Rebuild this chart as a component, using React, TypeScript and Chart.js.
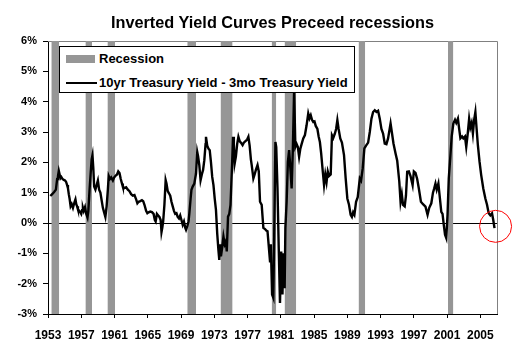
import React, { useEffect, useRef } from "react";
import { Chart, registerables } from "chart.js";

Chart.register(...registerables);

const FONT = '"Liberation Sans", Arial, Helvetica, sans-serif';

const titleText = "Inverted Yield Curves Preceed recessions";
const legendRecession = "Recession";
const legendSpread = "10yr Treasury Yield - 3mo Treasury Yield";

const xTickYears = [1953, 1957, 1961, 1965, 1969, 1973, 1977, 1981, 1985, 1989, 1993, 1997, 2001, 2005];
const yTickValues = [-3, -2, -1, 0, 1, 2, 3, 4, 5, 6];

const recessionStart = [1953.4, 1957.5, 1960.15, 1969.75, 1973.75, 1979.9, 1981.45, 1990.35, 2001.1];
const recessionEnd = [1954.35, 1958.3, 1961.07, 1970.8, 1975.2, 1980.45, 1982.85, 1991.15, 2001.75];

const spreadDates = [
  1953.28, 1953.5, 1953.76, 1953.95, 1954.1, 1954.2, 1954.3, 1954.4, 1954.5, 1954.6, 1954.75, 1954.9,
  1955.05, 1955.17, 1955.3, 1955.4, 1955.5, 1955.6, 1955.72, 1955.85, 1956.0, 1956.1, 1956.2, 1956.3,
  1956.4, 1956.5, 1956.6, 1956.75, 1956.9, 1957.0, 1957.1, 1957.2, 1957.3, 1957.45, 1957.6, 1957.75,
  1957.85, 1958.0, 1958.12, 1958.25, 1958.35, 1958.45, 1958.55, 1958.7, 1958.85, 1959.0, 1959.15, 1959.3,
  1959.45, 1959.6, 1959.75, 1959.9, 1960.05, 1960.2, 1960.3, 1960.45, 1960.6, 1960.8, 1960.95, 1961.1,
  1961.3, 1961.45, 1961.6, 1961.75, 1961.9, 1962.0, 1962.2, 1962.4, 1962.6, 1962.8, 1963.0, 1963.2,
  1963.4, 1963.6, 1963.75, 1963.9, 1964.1, 1964.3, 1964.45, 1964.6, 1964.8, 1964.95, 1965.1, 1965.3,
  1965.5, 1965.7, 1965.85, 1965.95, 1966.1, 1966.25, 1966.4, 1966.55, 1966.65, 1966.75, 1966.85, 1967.0,
  1967.15, 1967.25, 1967.4, 1967.55, 1967.7, 1967.85, 1968.0, 1968.15, 1968.3, 1968.45, 1968.6, 1968.75,
  1968.9, 1969.05, 1969.2, 1969.35, 1969.5, 1969.6, 1969.75, 1969.9, 1970.0, 1970.15, 1970.25, 1970.4,
  1970.6, 1970.8, 1970.95, 1971.05, 1971.2, 1971.35, 1971.5, 1971.65, 1971.8, 1971.95, 1972.0, 1972.15,
  1972.3, 1972.45, 1972.6, 1972.75, 1972.9, 1973.05, 1973.2, 1973.35, 1973.5, 1973.6, 1973.7, 1973.8,
  1973.95, 1974.1, 1974.25, 1974.4, 1974.5, 1974.65, 1974.8, 1974.95, 1975.05, 1975.15, 1975.25, 1975.35,
  1975.45, 1975.6, 1975.75, 1975.9, 1976.05, 1976.2, 1976.4, 1976.55, 1976.75, 1976.95, 1977.1, 1977.25,
  1977.4, 1977.5, 1977.7, 1977.85, 1978.0, 1978.2, 1978.35, 1978.5, 1978.7, 1978.9, 1979.1, 1979.25,
  1979.4, 1979.5, 1979.7, 1979.8, 1979.95, 1980.1, 1980.2, 1980.35, 1980.45, 1980.6, 1980.75, 1980.9,
  1981.05, 1981.2, 1981.3, 1981.46, 1981.55, 1981.7, 1981.85, 1982.0, 1982.15, 1982.3, 1982.45, 1982.6,
  1982.75, 1982.9, 1983.05, 1983.2, 1983.35, 1983.5, 1983.7, 1983.9, 1984.1, 1984.3, 1984.45, 1984.6,
  1984.75, 1984.9, 1985.05, 1985.2, 1985.4, 1985.55, 1985.7, 1985.85, 1986.05, 1986.2, 1986.35, 1986.5,
  1986.65, 1986.8, 1987.0, 1987.15, 1987.3, 1987.5, 1987.65, 1987.8, 1987.95, 1988.15, 1988.35, 1988.6,
  1988.8, 1989.0, 1989.2, 1989.4, 1989.55, 1989.7, 1989.85, 1990.05, 1990.25, 1990.5, 1990.65, 1990.85,
  1991.05, 1991.25, 1991.5, 1991.7, 1991.9, 1992.1, 1992.3, 1992.5, 1992.7, 1992.9, 1993.1, 1993.3,
  1993.5, 1993.7, 1993.9, 1994.2, 1994.35, 1994.55, 1994.8, 1995.0, 1995.25, 1995.4, 1995.55, 1995.7,
  1995.9, 1996.05, 1996.2, 1996.4, 1996.6, 1996.85, 1997.0, 1997.2, 1997.4, 1997.6, 1997.85, 1998.1,
  1998.4, 1998.65, 1998.85, 1999.1, 1999.3, 1999.45, 1999.6, 1999.75, 1999.95, 2000.1, 2000.3, 2000.45,
  2000.6, 2000.75, 2000.9, 2001.05, 2001.2, 2001.4, 2001.55, 2001.75, 2001.95, 2002.1, 2002.3, 2002.45,
  2002.6, 2002.8, 2002.95, 2003.15, 2003.3, 2003.5, 2003.65, 2003.8, 2003.95, 2004.1, 2004.25, 2004.4,
  2004.55, 2004.7, 2004.9, 2005.1, 2005.35, 2005.6, 2005.8, 2006.0, 2006.2, 2006.4, 2006.55, 2006.7,
];

const spreadValues = [
  0.89, 0.95, 1.03, 1.1, 1.45, 1.55, 1.72, 1.6, 1.48, 1.52, 1.45, 1.42,
  1.4, 1.36, 1.25, 1.15, 0.95, 0.8, 0.55, 0.62, 0.5, 0.6, 0.7, 0.78,
  0.62, 0.55, 0.45, 0.4, 0.35, 0.3, 0.42, 0.5, 0.4, 0.52, 0.3, 0.18,
  0.4, 1.1, 1.6, 2.1, 2.24, 1.8, 1.2, 1.1, 1.25, 1.4, 1.1, 1.0,
  0.75, 0.5, 0.35, 0.2, 0.55, 1.1, 1.55, 1.45, 1.5, 1.4, 1.5, 1.55,
  1.6, 1.7, 1.65, 1.45, 1.3, 1.2, 1.15, 1.18, 1.1, 1.05, 0.95, 0.9,
  0.92, 0.78, 0.65, 0.7, 0.72, 0.75, 0.72, 0.6, 0.4, 0.32, 0.35, 0.38,
  0.36, 0.3, 0.1, 0.05, 0.3, 0.25, 0.2, 0.1, -0.3, -0.15, 0.05, 0.6,
  1.41, 1.3, 1.05, 0.98, 0.9, 0.7, 0.55, 0.4, 0.3, 0.32, 0.2, 0.15,
  0.25, 0.1, -0.06, 0.05, -0.15, -0.22, -0.1, 0.05, 0.32, 0.8, 1.09, 1.2,
  1.3, 1.63, 2.34, 2.2, 1.9, 1.41, 1.6, 1.75, 2.07, 2.6, 2.84, 2.55,
  2.45, 2.4, 2.0, 1.52, 1.25, 0.8, 0.43, -0.34, -0.9, -1.22, -0.7, -1.1,
  -0.8, -0.45, -0.7, -0.6, -0.94, 0.21, 0.3, 0.6, 1.3, 2.0, 2.84, 2.6,
  1.96, 2.2, 2.6, 2.84, 2.7, 2.65, 2.57, 2.65, 2.7, 2.75, 2.84, 2.55,
  2.1, 1.91, 1.47, 1.6, 1.75, 1.91, 1.7, 0.7, 0.6, -0.16, -0.2, -0.25,
  -0.27, -0.6, -1.26, -0.7, -2.36, -2.47, -0.5, 2.67, 2.5, 1.14, -0.83, -2.64,
  -0.94, -2.36, -1.0, -2.15, -0.16, 0.7, 2.02, 2.4, 1.8, 1.14, 2.46, 4.4,
  2.51, 2.6, 2.5, 2.18, 2.45, 2.6, 2.79, 2.9, 3.22, 3.61, 3.45, 3.55,
  3.4, 3.33, 3.35, 3.2, 3.1, 2.85, 2.67, 2.3, 1.69, 1.25, 1.6, 1.35,
  1.7, 1.55, 1.6, 2.89, 2.8, 2.95, 3.1, 3.39, 3.1, 2.79, 2.65, 2.24,
  1.47, 0.81, 0.6, 0.27, 0.2, 0.35, 0.27, 0.7, 0.85, 1.47, 1.4, 1.8,
  2.46, 2.55, 2.65, 3.0, 3.44, 3.66, 3.72, 3.66, 3.7, 3.44, 3.1, 2.95,
  2.62, 2.6, 2.79, 3.28, 3.0, 2.62, 2.29, 2.05, 1.36, 0.7, 0.95, 0.6,
  0.55, 0.9, 1.69, 1.7, 1.55, 1.25, 1.7, 1.65, 1.45, 1.14, 0.7, 0.62,
  0.54, 0.27, 0.5, 0.65, 1.0, 1.14, 1.3, 1.1, 1.3, 0.9, 0.37, 0.3,
  -0.06, -0.39, -0.5, 0.27, 1.47, 2.24, 2.85, 3.28, 3.4, 3.3, 3.44, 3.1,
  2.79, 2.85, 2.79, 2.85, 2.51, 3.0, 3.44, 3.15, 3.3, 2.95, 3.4, 3.66,
  3.1, 2.57, 2.02, 1.58, 1.14, 0.81, 0.6, 0.32, 0.25, 0.32, 0.1, -0.17,
];

const markerX = [2006.83];
const markerY = [-0.11];

const framePlugin = {
  id: "frame",
  beforeDatasetsDraw(chart: any) {
    const { ctx, chartArea: a } = chart;
    ctx.save();
    ctx.strokeStyle = "#808080";
    ctx.lineWidth = 1;
    ctx.beginPath();
    ctx.moveTo(a.left, a.top + 0.5);
    ctx.lineTo(a.right + 0.5, a.top + 0.5);
    ctx.lineTo(a.right + 0.5, a.bottom);
    ctx.stroke();
    ctx.restore();
  },
};

export default function App() {
  const ref = useRef<HTMLCanvasElement>(null);

  useEffect(() => {
    const canvas = ref.current;
    if (!canvas) return;

    const recessionSets = recessionStart.map((s, i) => ({
      type: "line" as const,
      label: legendRecession,
      data: [
        { x: s, y: 6 },
        { x: recessionEnd[i], y: 6 },
      ],
      borderColor: "transparent",
      borderWidth: 0,
      pointRadius: 0,
      backgroundColor: "#969696",
      fill: { value: -3 },
      order: 10,
    }));

    const chart = new Chart(canvas, {
      type: "line",
      data: {
        datasets: [
          ...recessionSets,
          {
            type: "line",
            label: legendSpread,
            data: spreadDates.map((d, i) => ({ x: d, y: spreadValues[i] })),
            borderColor: "#000000",
            borderWidth: 2.4,
            pointRadius: 0,
            fill: false,
            tension: 0,
            order: 1,
          },
          {
            type: "scatter",
            label: "marker",
            data: markerX.map((x, i) => ({ x, y: markerY[i] })),
            pointRadius: 16,
            pointBorderColor: "#ff0000",
            pointBackgroundColor: "rgba(0,0,0,0)",
            pointBorderWidth: 1,
            clip: false,
            order: 0,
          },
        ] as any,
      },
      options: {
        animation: false,
        responsive: false,
        events: [],
        layout: { padding: { top: 41, right: 23, bottom: 0, left: 0 } },
        plugins: {
          legend: { display: false },
          title: { display: false },
          tooltip: { enabled: false },
        },
        scales: {
          x: {
            type: "linear",
            min: 1953,
            max: 2007,
            afterBuildTicks: (s: any) => {
              s.ticks = xTickYears.map((v) => ({ value: v }));
            },
            afterFit: (s: any) => {
              s.height = 48;
              s.paddingLeft = 0;
              s.paddingRight = 0;
            },
            ticks: {
              autoSkip: false,
              maxRotation: 0,
              padding: 10,
              color: "#000000",
              font: { family: FONT, size: 12, weight: "bold" },
              callback: (v: any) => String(v),
            },
            grid: {
              drawOnChartArea: false,
              drawTicks: true,
              tickLength: 4,
              tickColor: "#000000",
            },
            border: { display: true, color: "#000000", width: 1 },
          },
          y: {
            type: "linear",
            min: -3,
            max: 6,
            afterBuildTicks: (s: any) => {
              s.ticks = yTickValues.map((v) => ({ value: v }));
            },
            afterFit: (s: any) => {
              s.width = 48;
              s.paddingTop = 0;
              s.paddingBottom = 0;
            },
            ticks: {
              padding: 6,
              color: "#000000",
              font: { family: FONT, size: 11, weight: "bold" },
              callback: (v: any) => v + "%",
            },
            grid: {
              drawOnChartArea: true,
              drawTicks: true,
              tickLength: 5,
              tickColor: "#000000",
              color: (c: any) => (c.tick && c.tick.value === 0 ? "#000000" : "rgba(0,0,0,0)"),
              lineWidth: 1,
            },
            border: { display: true, color: "#000000", width: 1 },
          },
        },
      },
      plugins: [framePlugin],
    });

    return () => chart.destroy();
  }, []);

  return (
    <div style={{ position: "absolute", left: 0, top: 0, width: 520, height: 362, background: "#ffffff", fontFamily: FONT }}>
      <canvas ref={ref} width={520} height={362} style={{ display: "block", width: 520, height: 362 }} />
      <div
        style={{
          position: "absolute",
          left: 48,
          width: 449,
          top: 13.5,
          textAlign: "center",
          fontSize: 16.3,
          lineHeight: "16px",
          fontWeight: "bold",
          color: "#000",
          whiteSpace: "nowrap",
        }}
      >
        {titleText}
      </div>
      <div
        style={{
          position: "absolute",
          left: 59,
          top: 46,
          width: 296,
          height: 47,
          border: "1px solid #000",
          background: "#fff",
          boxSizing: "border-box",
        }}
      >
        <div style={{ position: "absolute", left: 6, top: 8, width: 29, height: 8, background: "#969696" }} />
        <div
          style={{ position: "absolute", left: 39, top: 5, fontSize: 13, lineHeight: "13px", fontWeight: "bold", whiteSpace: "nowrap" }}
        >
          {legendRecession}
        </div>
        <div style={{ position: "absolute", left: 6, top: 35, width: 31, height: 2, background: "#000" }} />
        <div
          style={{ position: "absolute", left: 39, top: 29, fontSize: 13, lineHeight: "13px", fontWeight: "bold", whiteSpace: "nowrap" }}
        >
          {legendSpread}
        </div>
      </div>
    </div>
  );
}
